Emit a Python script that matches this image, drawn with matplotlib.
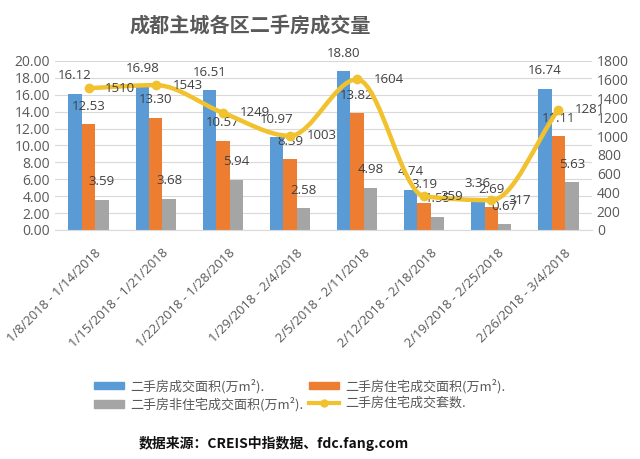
import matplotlib
matplotlib.use("Agg")
import matplotlib.pyplot as plt
import matplotlib.transforms as mtransforms
import numpy as np
from matplotlib.path import Path
from matplotlib.patches import PathPatch, Patch
from matplotlib.lines import Line2D

plt.rcParams['font.family'] = ['Open Sans', 'Noto Sans CJK SC', 'DejaVu Sans']

# ── 数据 ────────────────────────────────────────────────────────────────
semanas = ["1/8/2018 - 1/14/2018", "1/15/2018 - 1/21/2018",
           "1/22/2018 - 1/28/2018", "1/29/2018 - 2/4/2018",
           "2/5/2018 - 2/11/2018", "2/12/2018 - 2/18/2018",
           "2/19/2018 - 2/25/2018", "2/26/2018 - 3/4/2018"]
total_area = [16.12, 16.98, 16.51, 10.97, 18.80, 4.74, 3.36, 16.74]
resid_area = [12.53, 13.30, 10.57, 8.39, 13.82, 3.19, 2.69, 11.11]
nonres_area = [3.59, 3.68, 5.94, 2.58, 4.98, 1.55, 0.67, 5.63]
resid_units = [1510, 1543, 1249, 1003, 1604, 359, 317, 1281]

nombres = ["二手房成交面积(万m²).", "二手房住宅成交面积(万m²).",
           "二手房非住宅成交面积(万m²).", "二手房住宅成交套数."]

AZUL, NARANJA, GRIS, AMARILLO = "#5B9BD5", "#ED7D31", "#A5A5A5", "#F2C12E"
TXT = "#595959"

fig = plt.figure(figsize=(6.4, 4.59), dpi=100)
ax = fig.add_axes([55 / 640, 1 - 230 / 459, 537 / 640, 169 / 459])
ax2 = ax.twinx()

x = np.arange(len(semanas))
w = 0.2
series = [(total_area, AZUL, -w), (resid_area, NARANJA, 0), (nonres_area, GRIS, w)]
for vals, col, off in series:
    ax.bar(x + off, vals, width=w, color=col, zorder=2)
    for xi, v in zip(x, vals):
        ax.annotate(f"{v:.2f}", (xi + off, v), xytext=(0, 13),
                    textcoords="offset points", ha="center", va="center",
                    fontsize=9.5, color="#404040", zorder=5)

# ── línea suavizada: tangentes monótonas + Bezier ──────────────────────
y = np.asarray(resid_units, dtype=float)
d = np.diff(y)
m = np.zeros_like(y)
m[0], m[-1] = d[0], d[-1]
for i in range(1, len(y) - 1):
    if d[i - 1] * d[i] > 0:
        m[i] = 2 / (1 / d[i - 1] + 1 / d[i])
verts = [(x[0], y[0])]
codes = [Path.MOVETO]
for i in range(len(y) - 1):
    verts += [(x[i] + 1 / 3, y[i] + m[i] / 3),
              (x[i + 1] - 1 / 3, y[i + 1] - m[i + 1] / 3),
              (x[i + 1], y[i + 1])]
    codes += [Path.CURVE4] * 3
ax2.add_patch(PathPatch(Path(verts, codes), facecolor="none",
                        edgecolor=AMARILLO, lw=3.2, zorder=3,
                        capstyle="round", joinstyle="round"))
ax2.plot(x, resid_units, "o", color=AMARILLO, ms=6, zorder=4)
for xi, v in zip(x, resid_units):
    ax2.annotate(f"{v}", (xi, v), xytext=(12, 0), textcoords="offset points",
                 ha="left", va="center", fontsize=9.5, color="#404040", zorder=5)

# ── ejes ────────────────────────────────────────────────────────────────
ax.set_xlim(-0.5, len(semanas) - 0.5)
ax.set_ylim(0, 20)
ax2.set_ylim(0, 1800)
ax.set_yticks(np.arange(0, 20.1, 2))
ax.set_yticklabels([f"{t:.2f}" for t in np.arange(0, 20.1, 2)])
ax2.set_yticks(np.arange(0, 1801, 200))
ax.yaxis.grid(True, color="#D9D9D9", lw=0.8, zorder=0)
ax.set_axisbelow(True)
for a in (ax, ax2):
    for s in a.spines.values():
        s.set_visible(False)
    a.tick_params(length=0, labelsize=10, colors=TXT)
ax.spines["bottom"].set_visible(True)
ax.spines["bottom"].set_color("#D9D9D9")
ax.tick_params(axis="x", pad=4)
ax.set_xticks(x)
ax.set_xticklabels(semanas, rotation=45, ha="right", va="top",
                   rotation_mode="anchor", fontsize=9.4, color=TXT)
desplaza = mtransforms.ScaledTranslation(6 / 100, -11 / 100, fig.dpi_scale_trans)
for lbl in ax.get_xticklabels():
    lbl.set_transform(lbl.get_transform() + desplaza)

# ── título, leyenda, fuente ─────────────────────────────────────────────
fig.text(250 / 640, 1 - 25 / 459, "成都主城各区二手房成交量", ha="center",
         va="center", fontsize=14.5, fontweight="bold", color=TXT,
         family=["Noto Sans CJK SC"])

handles = [Patch(color=AZUL), Patch(color=GRIS), Patch(color=NARANJA),
           Line2D([], [], color=AMARILLO, lw=3, marker="o", ms=5)]
labels = [nombres[0], nombres[2], nombres[1], nombres[3]]
fig.legend(handles, labels, ncol=2, loc="upper left",
           bbox_to_anchor=(82 / 640, 1 - 367 / 459), frameon=False,
           labelcolor=TXT, handlelength=2.3, handleheight=0.5,
           columnspacing=0.4, handletextpad=0.5, labelspacing=0.3,
           prop={"family": ["Noto Sans CJK SC"], "size": 9.4})

fig.text(274 / 640, 1 - 443 / 459, "数据来源：CREIS中指数据、fdc.fang.com",
         ha="center", va="center", fontsize=10, fontweight="bold",
         color="#111111", family=["Noto Sans CJK SC"])

fig.savefig("out.png", dpi=100)
